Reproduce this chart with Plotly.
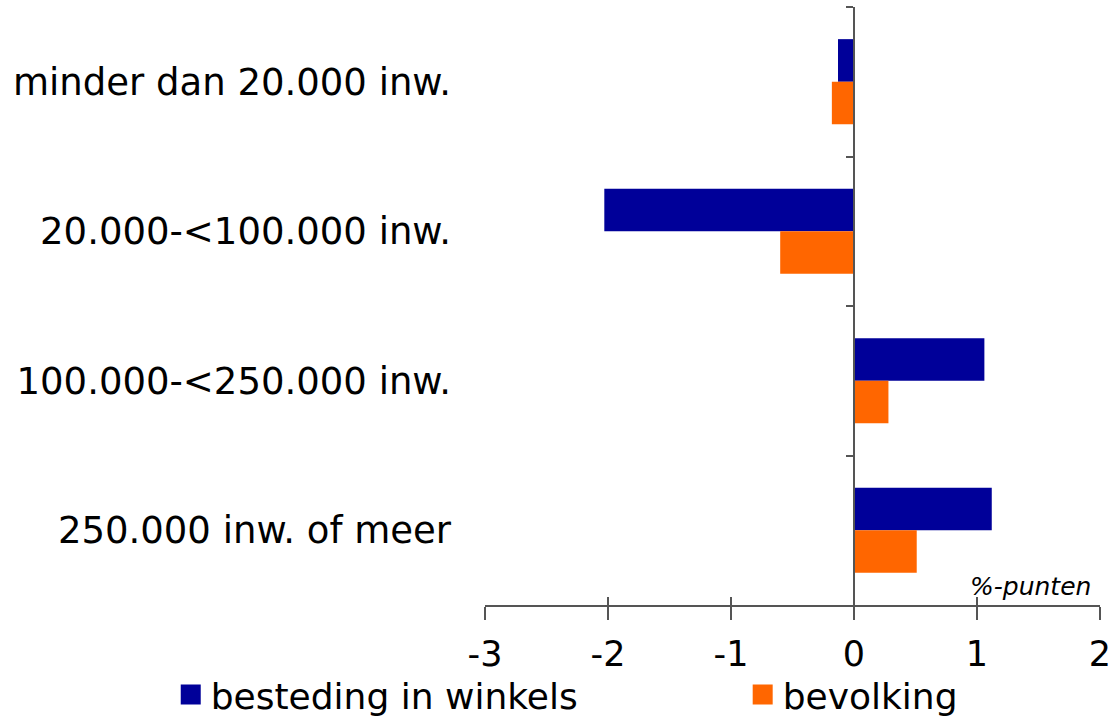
import plotly.graph_objects as go

# Categories (top to bottom) and the change in percentage points per series
categories = [
    "minder dan 20.000 inw.",
    "20.000-<100.000 inw.",
    "100.000-<250.000 inw.",
    "250.000 inw. of meer",
]
besteding = [-0.13, -2.03, 1.06, 1.12]
bevolking = [-0.18, -0.60, 0.28, 0.51]
series_names = ["besteding in winkels", "bevolking"]

x_ticks = [-3, -2, -1, 0, 1, 2]

BLUE = "#000099"
ORANGE = "#FF6600"
AXIS = "#555555"
FONT = "DejaVu Sans, Verdana, sans-serif"

fig = go.Figure()
for name, values, color in zip(series_names, [besteding, bevolking], [BLUE, ORANGE]):
    fig.add_trace(go.Bar(
        y=categories, x=values, orientation="h", name=name,
        marker=dict(color=color, line=dict(width=0)), showlegend=False,
    ))

# legend entries with larger square swatches, one legend per series
for i, (name, color) in enumerate(zip(series_names, [BLUE, ORANGE])):
    fig.add_trace(go.Scatter(
        x=[None], y=[None], mode="markers", name=name,
        marker=dict(symbol="square", size=16, color=color,
                    line=dict(color=color, width=4)),
        legend="legend" if i == 0 else "legend2", hoverinfo="skip",
    ))

# invisible helpers so the overlay axes (inner x ticks, zero line with
# category separators) get drawn
fig.add_trace(go.Scatter(x=[0], y=[categories[0]], xaxis="x2", yaxis="y",
                         mode="markers", marker=dict(opacity=0),
                         showlegend=False, hoverinfo="skip"))
fig.add_trace(go.Scatter(x=[0], y=[0], xaxis="x", yaxis="y2",
                         mode="markers", marker=dict(opacity=0),
                         showlegend=False, hoverinfo="skip"))

legend_common = dict(
    orientation="h", y=-0.15, yanchor="middle", xanchor="left",
    font=dict(size=36, family=FONT), bgcolor="rgba(0,0,0,0)",
)

fig.update_layout(
    width=1113, height=717,
    margin=dict(l=485, r=13, t=7, b=112, autoexpand=False),
    paper_bgcolor="white", plot_bgcolor="white",
    barmode="group", bargap=0.43, bargroupgap=0,
    font=dict(family=FONT, color="black"),
    showlegend=True,
    legend=dict(x=-0.511, **legend_common),
    legend2=dict(x=0.419, **legend_common),
    xaxis=dict(
        range=[-3, 2], tickvals=x_ticks, ticktext=[str(v) for v in x_ticks],
        showgrid=False, zeroline=False, automargin=False,
        showline=True, linecolor=AXIS, linewidth=1.5,
        ticks="outside", ticklen=13, tickwidth=1.5, tickcolor=AXIS,
        tickfont=dict(size=35, family=FONT), ticklabelstandoff=4,
    ),
    xaxis2=dict(
        overlaying="x", anchor="y", side="bottom", range=[-3, 2], tickvals=x_ticks,
        showticklabels=False, showgrid=False, zeroline=False, showline=False,
        ticks="inside", ticklen=8, tickwidth=1.5, tickcolor=AXIS, automargin=False,
    ),
    yaxis=dict(
        autorange="reversed", showgrid=False, zeroline=False, showline=False,
        ticks="", tickfont=dict(size=37, family=FONT), ticklabelstandoff=33,
        automargin=False,
    ),
    yaxis2=dict(
        overlaying="y", anchor="free", position=0.6, side="left",
        range=[3.5, -0.5], tickvals=[-0.5, 0.5, 1.5, 2.5],
        showticklabels=False, showgrid=False, zeroline=False,
        showline=True, linecolor=AXIS, linewidth=1.5, automargin=False,
        ticks="outside", ticklen=7, tickwidth=1.5, tickcolor=AXIS,
    ),
    annotations=[dict(
        text="<i>%-punten</i>", xref="x", yref="paper", x=2, y=0, xanchor="right",
        yanchor="bottom", xshift=-7, yshift=2, showarrow=False,
        font=dict(size=25, family=FONT, color="black"),
    )],
)

fig.write_html("out.html")
